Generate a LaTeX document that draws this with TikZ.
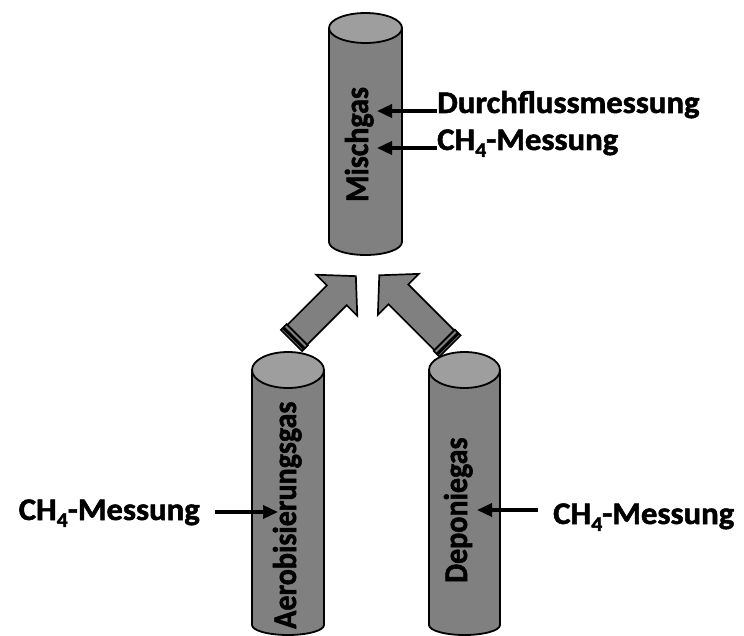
\documentclass[tikz,border=0pt]{standalone}
\usepackage{fontspec}
\setmainfont{Carlito}[BoldFeatures={FakeBold=1.6}]
\usetikzlibrary{arrows.meta}
\definecolor{cylbody}{RGB}{128,128,128}
\definecolor{cyltop}{RGB}{158,158,158}
\newcommand\hlbl[1]{\scalebox{1.04}[1]{#1}}
\newcommand\vlbl[1]{\scalebox{1}[1.1]{#1}}
\newcommand\chfour{\hlbl{CH\raisebox{-0.22em}{\fontsize{21}{21}\selectfont 4}-Messung}}
\newcommand\cyl[6]{%
  \pgfmathsetmacro\cC{(#1+#2)/2}%
  \pgfmathsetmacro\cR{(#2-#1)/2}%
  \pgfmathsetmacro\kx{0.5523*\cR}%
  \pgfmathsetmacro\ky{0.5523*#6}%
  \pgfmathsetmacro\yB{#5+#6}%
  \path[outl, fill=cylbody] (#1,#3) -- (#1,#5)
     .. controls (#1,#5+\ky) and (\cC-\kx,\yB) .. (\cC,\yB)
     .. controls (\cC+\kx,\yB) and (#2,#5+\ky) .. (#2,#5) -- (#2,#3) -- cycle;
  \path[outl, fill=cyltop] (\cC,#3) ellipse [x radius=\cR, y radius=#4];
}
\newcommand\blockarrow[4]{%
  \begin{scope}[shift={(#1,#2)}, rotate=#3]
    \path[blk] (8,-14) -- (#4-27,-14) -- (#4-27,-29) -- (#4,0) -- (#4-27,29) -- (#4-27,14) -- (8,14) -- cycle;
    \path[blk] (4,-15) rectangle (8,15);
    \path[blk] (0,-15) rectangle (2.5,15);
  \end{scope}
}
\begin{document}
\begin{tikzpicture}[x=1pt,y=-1pt,
  outl/.style={draw=black, line width=1.8pt, line join=round},
  lbl/.style={font=\fontsize{31.5}{31.5}\selectfont\bfseries, inner sep=0pt},
  vlb/.style={font=\fontsize{30}{30}\selectfont\bfseries, inner sep=0pt},
  ptr/.style={draw=black, line width=3.4pt, -{Triangle[length=15pt,width=13pt]}},
  blk/.style={draw=black, fill=cylbody, line width=1.7pt, line join=miter}]
\useasboundingbox (0,0) rectangle (744,636);

% cylinders
\cyl{329}{402}{28}{15}{242}{13}
\cyl{252}{324}{370}{18}{625}{10}
\cyl{429}{500}{370}{18}{625}{10}

% cylinder labels
\node[vlb, rotate=90, anchor=base west] (mg) at (368,202) {\vlbl{Mischgas}};
\node[vlb, rotate=90, anchor=base west] (ag) at (296,629) {\vlbl{Aerobisierungsgas}};
\node[vlb, rotate=90, anchor=base west] (dg) at (467,583) {\vlbl{Deponiegas}};

% block arrows
\blockarrow{291.5}{340.5}{45}{91}
\blockarrow{450}{346}{135}{100}

% measurement labels
\node[lbl, anchor=base west] (t1) at (437,113) {\hlbl{Durchflussmessung}};
\node[lbl, anchor=base west] (t2) at (437,150) {\chfour};
\node[lbl, anchor=base east] (t3) at (200,520) {\chfour};
\node[lbl, anchor=base west] (t4) at (553,524) {\chfour};

\coordinate (a1) at (377,111);
\coordinate (a2) at (377,148);
\coordinate (a3) at (278,512);
\coordinate (a4) at (477,510);

\draw[ptr] (t1.west |- a1) -- (a1);
\draw[ptr] (t2.west |- a2) -- (a2);
\draw[ptr, shorten <=15pt] (t3.east |- a3) -- (a3);
\draw[ptr, shorten <=15pt] (t4.west |- a4) -- (a4);
\end{tikzpicture}
\end{document}
